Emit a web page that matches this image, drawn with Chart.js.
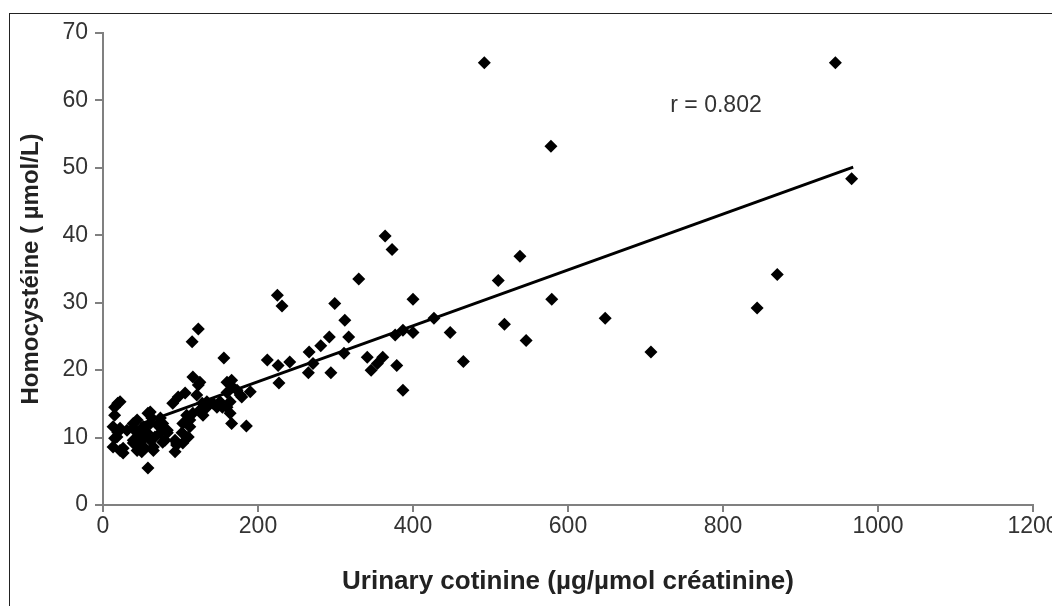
<!DOCTYPE html>
<html>
<head>
<meta charset="utf-8">
<script src="https://cdn.jsdelivr.net/npm/chart.js@4.4.1/dist/chart.umd.min.js"></script>
<style>
    body { margin: 0; background: #fff; }
    #wrap { position: relative; width: 1052px; height: 606px; overflow: hidden; background: #fff; }
    #frame { position: absolute; left: 9px; top: 13px; width: 1200px; height: 800px; border: 1px solid #222; }
    #myChart { position: absolute; left: 0; top: 0; }
</style>
</head>
<body>
<div id="wrap">
    <div id="frame"></div>
    <canvas id="myChart" width="1052" height="606"></canvas>
</div>
<script>
// cotinine (x) / homocysteine (y)
const cotinine = [
    13, 15, 13, 15, 15, 19, 22, 18, 19, 22, 22, 26, 26, 31, 39, 39, 44, 44, 39, 39,
    44, 48, 48, 52, 52, 52, 54, 50, 57, 58, 61, 63, 61, 61, 65, 65, 58, 67, 70, 74,
    74, 77, 77, 80, 83, 83, 90, 93, 93, 95, 95, 97,
    103, 102, 110, 103, 112, 112, 116, 108, 106, 115, 123, 116, 123, 125, 121, 128, 134, 134,
    129, 125, 142, 147, 151, 154, 156, 160, 166, 160, 167, 173, 177, 179, 160, 164, 164, 166,
    185, 190,
    212, 225, 231, 226, 227, 241, 265, 266, 271, 281, 292, 294, 299, 311, 312, 317, 330, 341,
    346, 354, 361, 364, 373, 377, 379, 387, 387, 400, 400, 427, 448, 465, 492, 510, 518, 538,
    546, 578, 579, 648, 707, 844, 870, 945, 966
];
const homocysteine = [
    8.6, 9.9, 11.6, 13.3, 14.5, 15.1, 15.3, 10.1, 10.8, 11.4, 8.1, 8.4, 7.7, 11.1, 12.1, 11.4, 12.6, 10.7, 9.6, 9.2,
    8.1, 9.2, 11.1, 11.6, 10.1, 9.9, 8.4, 7.9, 10.7, 13.6, 13.8, 12.9, 12.1, 9.6, 8.6, 8.1, 5.5, 10.1, 11.9, 10.7,
    12.9, 9.3, 12.1, 9.6, 11.1, 10.7, 15.1, 9.6, 7.9, 8.9, 9.2, 16.0,
    12.1, 10.7, 10.1, 9.2, 11.6, 12.6, 13.6, 13.3, 16.6, 24.2, 26.1, 19.0, 17.8, 18.2, 16.3, 15.1, 15.3, 14.5,
    13.3, 14.1, 15.1, 14.5, 15.3, 14.5, 21.8, 18.2, 18.5, 16.7, 17.5, 17.0, 16.3, 16.0, 14.5, 15.3, 13.6, 12.1,
    11.7, 16.8,
    21.5, 31.1, 29.5, 20.7, 18.1, 21.2, 19.6, 22.7, 21.0, 23.6, 24.9, 19.6, 29.9, 22.5, 27.4, 24.9, 33.5, 21.9,
    20.0, 21.0, 21.9, 39.9, 37.9, 25.2, 20.7, 25.9, 17.0, 25.6, 30.5, 27.7, 25.6, 21.3, 65.6, 33.3, 26.8, 36.9,
    24.4, 53.2, 30.5, 27.7, 22.7, 29.2, 34.2, 65.6, 48.4
];

// regression line end points
const trendX = [48, 968];
const trendY = [12.0, 50.1];

const xTicks = [0, 200, 400, 600, 800, 1000, 1200];
const yTicks = [0, 10, 20, 30, 40, 50, 60, 70];

const rLabel = "r = 0.802";
const rLabelPos = [732, 59.2];

document.addEventListener("DOMContentLoaded", function(){
    loadGraphic();
});

function loadGraphic(){
    let points = cotinine.map((x, i) => ({x: x, y: homocysteine[i]}));
    let trend = trendX.map((x, i) => ({x: x, y: trendY[i]}));

    const rText = {
        id: 'rText',
        afterDatasetsDraw(chart){
            const ctx = chart.ctx;
            ctx.save();
            ctx.font = '23px "Liberation Sans", Arial, sans-serif';
            ctx.fillStyle = '#333';
            ctx.textAlign = 'left';
            ctx.textBaseline = 'middle';
            ctx.fillText(rLabel, chart.scales.x.getPixelForValue(rLabelPos[0]), chart.scales.y.getPixelForValue(rLabelPos[1]));
            ctx.restore();
        }
    };

    const axisGrey = '#808080';
    const tickFont = {family: '"Liberation Sans", Arial, sans-serif', size: 23};
    const titleFont = {family: '"Liberation Sans", Arial, sans-serif', size: 26, weight: 'bold'};

    const ctx = document.getElementById('myChart').getContext('2d');
    myChart = new Chart(ctx, {
        type: 'scatter',
        data: {
            datasets: [{
                label: 'trend',
                type: 'line',
                data: trend,
                borderColor: 'black',
                borderWidth: 3,
                pointRadius: 0,
                fill: false
            }, {
                label: 'subjects',
                data: points,
                pointStyle: 'rectRot',
                pointRadius: 6.5,
                backgroundColor: 'black',
                borderColor: 'black',
                borderWidth: 0
            }]
        },
        options: {
            responsive: false,
            animation: false,
            devicePixelRatio: 1,
            layout: {
                padding: {left: 0, top: 33, right: 19, bottom: 0}
            },
            plugins: {
                legend: {display: false},
                tooltip: {enabled: false}
            },
            scales: {
                x: {
                    type: 'linear',
                    min: 0,
                    max: 1200,
                    afterBuildTicks: function(scale){
                        scale.ticks = xTicks.map(v => ({value: v}));
                    },
                    afterFit: function(scale){
                        scale.height = 101;
                        scale.paddingLeft = 0;
                        scale.paddingRight = 0;
                    },
                    ticks: {
                        font: tickFont,
                        color: '#333',
                        padding: 1,
                        maxRotation: 0,
                        callback: v => String(v)
                    },
                    grid: {
                        drawOnChartArea: false,
                        drawTicks: true,
                        tickLength: 7,
                        color: axisGrey,
                        lineWidth: 2
                    },
                    border: {color: axisGrey, width: 2},
                    title: {
                        display: true,
                        text: 'Urinary cotinine (µg/µmol créatinine)',
                        font: titleFont,
                        color: '#222',
                        padding: {top: 0, bottom: 9}
                    }
                },
                y: {
                    type: 'linear',
                    min: 0,
                    max: 70,
                    afterBuildTicks: function(scale){
                        scale.ticks = yTicks.map(v => ({value: v}));
                    },
                    afterFit: function(scale){
                        scale.width = 103;
                    },
                    ticks: {
                        font: tickFont,
                        color: '#333',
                        padding: 7,
                        callback: v => String(v)
                    },
                    grid: {
                        drawOnChartArea: false,
                        drawTicks: true,
                        tickLength: 8,
                        color: axisGrey,
                        lineWidth: 2
                    },
                    border: {color: axisGrey, width: 2},
                    title: {
                        display: true,
                        text: 'Homocystéine ( µmol/L)',
                        font: {family: '"Liberation Sans", Arial, sans-serif', size: 24, weight: 'bold'},
                        color: '#222',
                        padding: {top: 17, bottom: 0}
                    }
                }
            }
        },
        plugins: [rText]
    });
}
</script>
</body>
</html>
